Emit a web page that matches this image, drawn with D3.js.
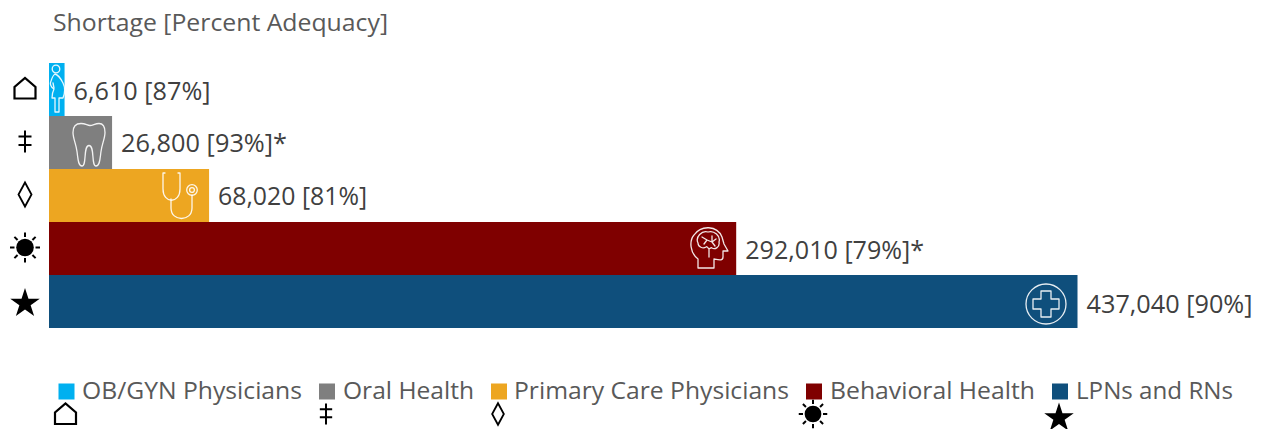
<!DOCTYPE html>
<html>
<head>
<meta charset="utf-8">
<script src="https://cdn.jsdelivr.net/npm/d3@7"></script>
<style>
  html, body { margin: 0; padding: 0; background: #fff; }
  svg { display: block; }
  text { font-family: "Open Sans", "Noto Sans", sans-serif; }
</style>
</head>
<body>
<svg id="chart" width="1262" height="429"></svg>
<script>
// Workforce shortage by profession
const categories = ["OB/GYN Physicians", "Oral Health", "Primary Care Physicians", "Behavioral Health", "LPNs and RNs"];
const shortages = [6610, 26800, 68020, 292010, 437040];
const adequacy = [87, 93, 81, 79, 90];
const footnoted = [false, true, false, true, false];
const markers = ["house", "dagger", "lozenge", "sun", "star"];
const icons = ["woman", "tooth", "stethoscope", "head", "cross"];
const barColors = ["#00B0F0", "#7F7F7F", "#EDA621", "#7F0000", "#0F4F7C"];

const svg = d3.select("#chart");
const x = d3.scaleLinear().domain([0, 437040]).range([49, 1077.5]);
const y = d3.scaleBand().domain(categories).range([63, 328]).padding(0);

// Black marker glyphs, centred on the origin
function drawMarker(g, kind, s) {
  if (kind === "house") {
    g.append("path").attr("d", `M${-10.5*s} ${10*s}V${-1.5*s}L0 ${-10.5*s}L${10.5*s} ${-1.5*s}V${10*s}Z`)
      .attr("fill", "none").attr("stroke", "#000").attr("stroke-width", 2.2);
  } else if (kind === "dagger") {
    g.append("path").attr("d", `M0 ${-11*s}V${11*s}M${-6.5*s} ${-5*s}H${6.5*s}M${-6.5*s} ${3.5*s}H${6.5*s}`)
      .attr("fill", "none").attr("stroke", "#000").attr("stroke-width", 2);
  } else if (kind === "lozenge") {
    g.append("path").attr("d", `M0 ${-12*s}L${6.5*s} 0L0 ${12*s}L${-6.5*s} 0Z`)
      .attr("fill", "none").attr("stroke", "#000").attr("stroke-width", 1.8);
  } else if (kind === "sun") {
    g.append("circle").attr("r", 8.8*s).attr("fill", "#000");
    d3.range(8).forEach(i => {
      const a = i * Math.PI / 4;
      g.append("line")
        .attr("x1", Math.cos(a) * 10.5*s).attr("y1", Math.sin(a) * 10.5*s)
        .attr("x2", Math.cos(a) * 15*s).attr("y2", Math.sin(a) * 15*s)
        .attr("stroke", "#000").attr("stroke-width", 2);
    });
  } else {
    g.append("path").attr("d", d3.symbol(d3.symbolStar, 270 * s * s)()).attr("fill", "#000");
  }
}

// White outline pictograms placed inside the bars, drawn around the origin
const iconMarkup = {
  woman: `<circle cx="-1" cy="-20" r="3.8"/>
    <path d="M-2 -15C2 -14 4 -10 6 -6C8 -2 8 4 6 9H2V23H-2V9H-5C-5 5 -4 2 -3 0C-6 -2 -8 -4 -6 -8C-5 -11 -4 -14 -2 -15Z"/>
    <path d="M-4 -6L-3 -1"/>`,
  tooth: `<path d="M-8 -21C-3 -21 -2 -19 1 -19C4 -19 6 -21 10 -21C15 -21 16 -16 16 -12C16 -6 13 -1 12 7C11 14 11 21.5 7 21.5C2 21.5 6 1 0 1C-6 1 -2 21.5 -7 21.5C-11 21.5 -11 14 -12 7C-13 -1 -16 -6 -16 -12C-16 -17 -14 -21 -8 -21Z"/>`,
  stethoscope: `<path d="M-13 -23H-15V-7C-15 8 2 8 2 -7V-23H0"/>
    <path d="M-7 3V12C-7 26 14 26 14 12V-1"/>
    <circle cx="14" cy="-6" r="5.3"/><circle cx="14" cy="-6" r="2.4"/>`,
  head: `<path d="M-11 20V11C-19 5 -20 -7 -15 -13C-8 -23 8 -23 13 -11L15 -4L19 3H14V9C14 13 10 12 5 11V20Z"/>
    <path d="M-11 -5C-14 -11 -7 -18 -1 -16C5 -18 12 -12 10 -6C11 -1 6 2 3 0C2 -1 1 1 0 1V9M-11 -5C-11 -1 -6 1 -3 -1C-2 -2 -1 0 0 1M-7 -11L-2 -8L-5 -4M-2 -8L3 -6L7 -9M3 -12L3 -6L6 -2"/>`,
  cross: `<circle r="20"/>
    <path d="M-5 -13H5V-5H13V5H5V13H-5V5H-13V-5H-5Z"/>`
};
const iconCenters = [[57, 89], [89, 144.5], [178, 196], [709, 248], [1046, 304]];

// Title
svg.append("text").attr("x", 53).attr("y", 30.5)
  .attr("font-size", 24.5).attr("fill", "#595959")
  .attr("textLength", 335).attr("lengthAdjust", "spacingAndGlyphs")
  .text("Shortage [Percent Adequacy]");

// Bars
svg.append("g").selectAll("rect").data(categories).join("rect")
  .attr("x", x(0))
  .attr("y", d => y(d))
  .attr("width", (d, i) => x(shortages[i]) - x(0))
  .attr("height", y.bandwidth())
  .attr("fill", (d, i) => barColors[i]);

// Bar pictograms
categories.forEach((d, i) => {
  svg.append("g")
    .attr("transform", `translate(${iconCenters[i][0]},${iconCenters[i][1]})`)
    .attr("fill", "none").attr("stroke", "#fff").attr("stroke-opacity", 0.9)
    .attr("stroke-width", 1.3).attr("stroke-linejoin", "round").attr("stroke-linecap", "round")
    .html(iconMarkup[icons[i]]);
});

// Value labels
const fmt = d3.format(",");
const labelWidths = [137, 166, 149, 179, 166];
const labelDy = [10, 9, 9, 10, 11];
svg.append("g").selectAll("text").data(categories).join("text")
  .attr("x", (d, i) => x(shortages[i]) + 9)
  .attr("y", (d, i) => y(d) + y.bandwidth() / 2 + labelDy[i])
  .attr("font-size", 25.5).attr("fill", "#404040")
  .attr("textLength", (d, i) => labelWidths[i]).attr("lengthAdjust", "spacingAndGlyphs")
  .text((d, i) => `${fmt(shortages[i])} [${adequacy[i]}%]${footnoted[i] ? "*" : ""}`);

// Row markers to the left of the bars
const markerDy = [-1, -1, -1, -1, 2];
categories.forEach((d, i) => {
  const g = svg.append("g").attr("transform", `translate(25,${y(d) + y.bandwidth() / 2 + markerDy[i]})`);
  drawMarker(g, markers[i], 1);
});

// Legend
const legendSwatchX = [58.5, 319, 491, 806, 1052];
const legendTextX = [82, 343, 514, 830, 1076];
const legendTextW = [220, 131, 275, 205, 157];
const legendMarkerScale = [1, 0.95, 0.9, 0.95, 1];
categories.forEach((d, i) => {
  svg.append("rect").attr("x", legendSwatchX[i]).attr("y", 383.5)
    .attr("width", 16).attr("height", 16).attr("fill", barColors[i]);
  svg.append("text").attr("x", legendTextX[i]).attr("y", 398.5)
    .attr("font-size", 24.5).attr("fill", "#595959")
    .attr("textLength", legendTextW[i]).attr("lengthAdjust", "spacingAndGlyphs").text(d);
  const g = svg.append("g").attr("transform", `translate(${legendSwatchX[i] + 7},${i === 4 ? 418 : 414})`);
  drawMarker(g, markers[i], legendMarkerScale[i]);
});
</script>
</body>
</html>
